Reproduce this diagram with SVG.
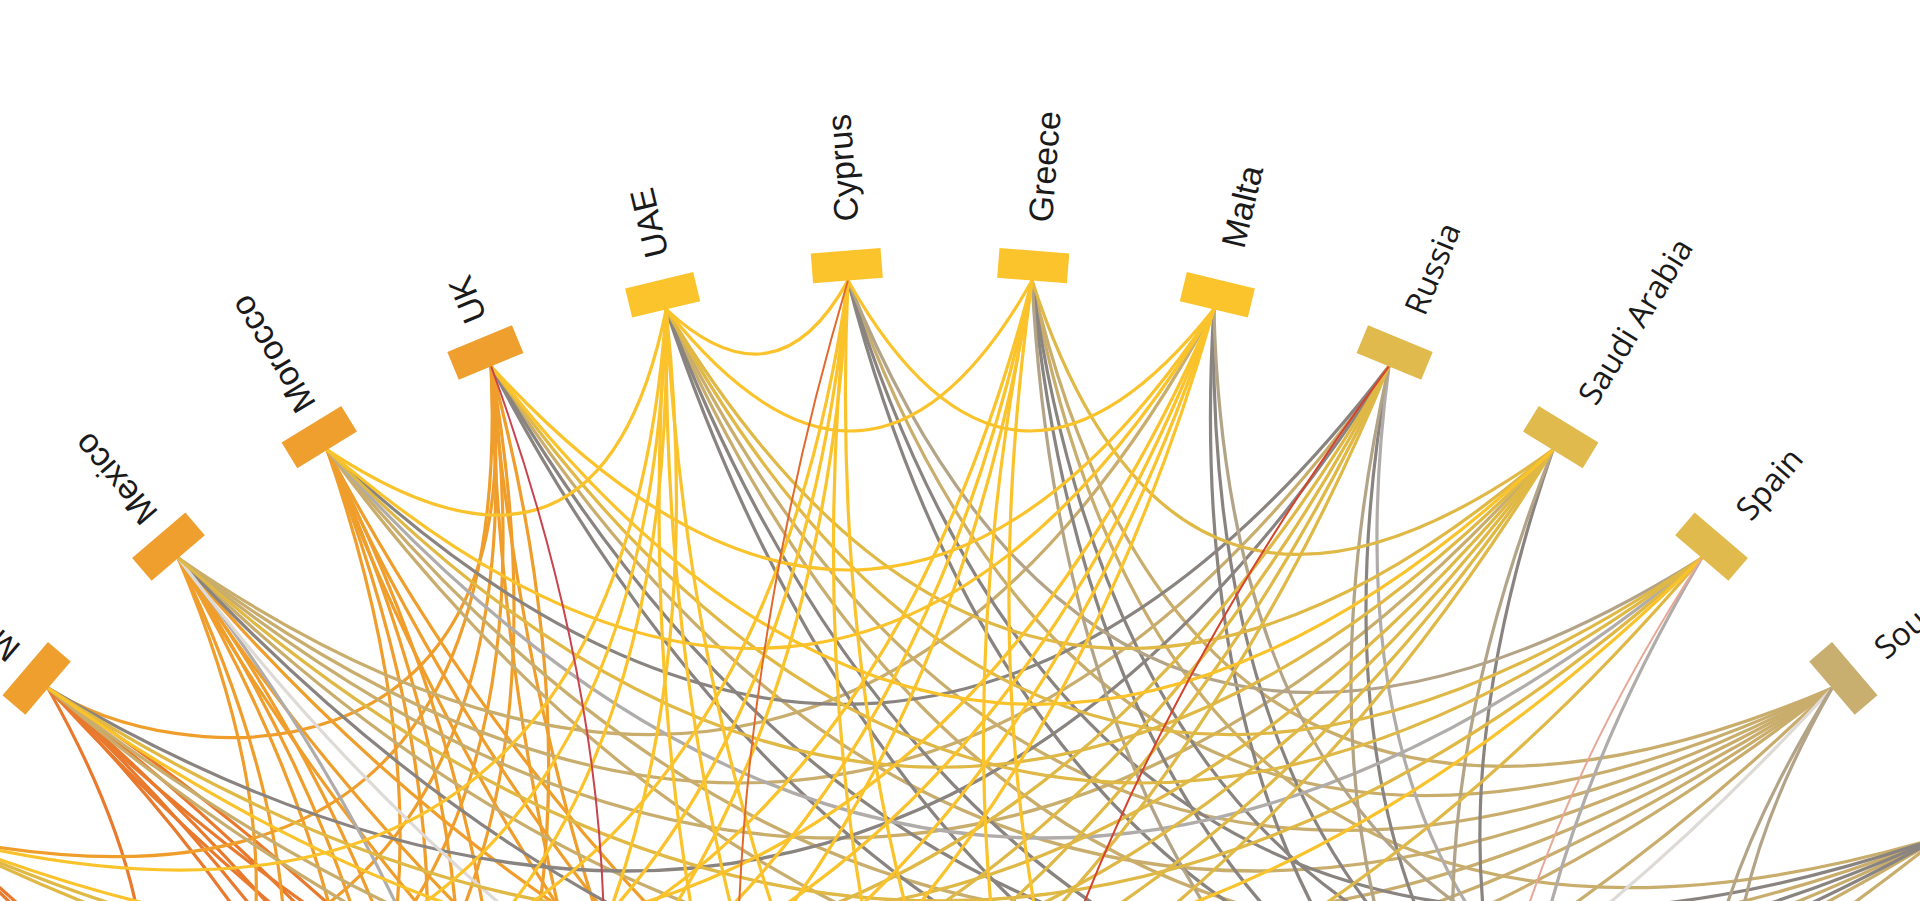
<svg xmlns="http://www.w3.org/2000/svg" width="1920" height="901" viewBox="0 0 1920 901">
<style>
.o1{stroke:#E8792D}.o2{stroke:#EF9E2C}.y{stroke:#FBC32B}.g{stroke:#DFB845}.kh{stroke:#C9AD6D}.tp{stroke:#B3A488}.gr{stroke:#8A8480}.lg{stroke:#B0ACAA}.vlg{stroke:#DEDAD6}
.rd{stroke:#D5432B;stroke-width:2}.ro{stroke:#E2692C;stroke-width:2}.pk{stroke:#E7A896;stroke-width:2}.cr{stroke:#C8454E;stroke-width:2}
.nO{fill:#EF9F2E}.nY{fill:#FCC42C}.nG{fill:#E1BA4E}.nK{fill:#C8AE6F}
.lh{font-family:"Liberation Sans",Arial,sans-serif;font-size:34px;fill:#1a1a1a}
.lm{font-family:"Open Sans","Liberation Sans",sans-serif;font-size:32px;fill:#1a1a1a}
</style>
<defs>
<path id="k1" d="M-92,-1169.4Q0,-1051.6 92,-1169.4"/>
<path id="k2" d="M-183.5,-1158.6Q0,-886.5 183.5,-1158.6"/>
<path id="k3" d="M-273.8,-1140.6Q0,-763.7 273.8,-1140.6"/>
<path id="k4" d="M-362.5,-1115.6Q0,-651.6 362.5,-1115.6"/>
<path id="k5" d="M-448.9,-1083.7Q0,-548.7 448.9,-1083.7"/>
<path id="k6" d="M-532.5,-1045.2Q0,-453.8 532.5,-1045.2"/>
<path id="k7" d="M-612.9,-1000.1Q0,-365.4 612.9,-1000.1"/>
<path id="k8" d="M-689.5,-949Q0,-283.1 689.5,-949"/>
<path id="k9" d="M-761.8,-892Q0,-206.1 761.8,-892"/>
<path id="k10" d="M-829.4,-829.4Q0,-133.4 829.4,-829.4"/>
<path id="k11" d="M-892,-761.8Q0,-64.9 892,-761.8"/>
<path id="k12" d="M-949,-689.5Q0,0 949,-689.5"/>
<path id="k13" d="M-1000.1,-612.9Q0,87.4 1000.1,-612.9"/>
<path id="k14" d="M-1045.2,-532.5Q0,172.5 1045.2,-532.5"/>
<path id="k15" d="M-1083.7,-448.9Q0,254.9 1083.7,-448.9"/>
<path id="k16" d="M-1115.6,-362.5Q0,334.6 1115.6,-362.5"/>
<path id="k17" d="M-1140.6,-273.8Q0,411.6 1140.6,-273.8"/>
<path id="k18" d="M-1158.6,-183.5Q0,485.5 1158.6,-183.5"/>
</defs>
<rect width="1920" height="901" fill="#ffffff"/>
<g id="connectors" transform="translate(940 1450)" fill="none" stroke-width="3.2">
<use href="#k14" transform="rotate(-112.5)" class="o1"/>
<use href="#k13" transform="rotate(-108)" class="o1"/>
<use href="#k12" transform="rotate(-103.5)" class="o1"/>
<use href="#k11" transform="rotate(-99)" class="o1"/>
<use href="#k10" transform="rotate(-94.5)" class="o1"/>
<use href="#k13" transform="rotate(9)" class="o1"/>
<use href="#k14" transform="rotate(13.5)" class="o1"/>
<use href="#k4" transform="rotate(-67.5)" class="o1"/>
<use href="#k8" transform="rotate(-94.5)" class="o1"/>
<use href="#k9" transform="rotate(-99)" class="o1"/>
<use href="#k12" transform="rotate(13.5)" class="o2"/>
<use href="#k14" transform="rotate(22.5)" class="o2"/>
<use href="#k15" transform="rotate(27)" class="o2"/>
<use href="#k8" transform="rotate(-76.5)" class="o2"/>
<use href="#k9" transform="rotate(-81)" class="o2"/>
<use href="#k10" transform="rotate(-85.5)" class="o2"/>
<use href="#k5" transform="rotate(-63)" class="o2"/>
<use href="#k6" transform="rotate(-67.5)" class="o2"/>
<use href="#k7" transform="rotate(-63)" class="o2"/>
<use href="#k8" transform="rotate(-67.5)" class="o2"/>
<use href="#k9" transform="rotate(-72)" class="o2"/>
<use href="#k10" transform="rotate(-76.5)" class="o2"/>
<use href="#k14" transform="rotate(31.5)" class="o2"/>
<use href="#k15" transform="rotate(36)" class="o2"/>
<use href="#k13" transform="rotate(27)" class="o2"/>
<use href="#k4" transform="rotate(-40.5)" class="o2"/>
<use href="#k5" transform="rotate(-45)" class="o2"/>
<use href="#k6" transform="rotate(-49.5)" class="o2"/>
<use href="#k7" transform="rotate(-54)" class="o2"/>
<use href="#k9" transform="rotate(-63)" class="o2"/>
<use href="#k17" transform="rotate(54)" class="o2"/>
<use href="#k18" transform="rotate(58.5)" class="o2"/>
<path class="o2" d="M-892,-761.8C-770,-680 -400,-650 -448.9,-1083.7"/>
<use href="#k11" transform="rotate(0)" class="kh"/>
<use href="#k12" transform="rotate(4.5)" class="kh"/>
<use href="#k7" transform="rotate(-9)" class="kh"/>
<use href="#k6" transform="rotate(-13.5)" class="kh"/>
<use href="#k8" transform="rotate(-4.5)" class="kh"/>
<use href="#k9" transform="rotate(9)" class="kh"/>
<use href="#k10" transform="rotate(13.5)" class="kh"/>
<use href="#k7" transform="rotate(18)" class="kh"/>
<use href="#k6" transform="rotate(22.5)" class="kh"/>
<use href="#k8" transform="rotate(13.5)" class="kh"/>
<use href="#k10" transform="rotate(4.5)" class="kh"/>
<use href="#k13" transform="rotate(-9)" class="kh"/>
<use href="#k5" transform="rotate(27)" class="kh"/>
<use href="#k14" transform="rotate(-4.5)" class="kh"/>
<use href="#k6" transform="rotate(31.5)" class="kh"/>
<use href="#k8" transform="rotate(22.5)" class="kh"/>
<use href="#k8" transform="rotate(-13.5)" class="gr"/>
<use href="#k11" transform="rotate(9)" class="gr"/>
<use href="#k6" transform="rotate(-4.5)" class="gr"/>
<use href="#k10" transform="rotate(22.5)" class="gr"/>
<use href="#k9" transform="rotate(18)" class="gr"/>
<use href="#k10" transform="rotate(31.5)" class="gr"/>
<use href="#k9" transform="rotate(27)" class="gr"/>
<use href="#k7" transform="rotate(27)" class="gr"/>
<use href="#k8" transform="rotate(31.5)" class="gr"/>
<use href="#k7" transform="rotate(36)" class="gr"/>
<use href="#k8" transform="rotate(40.5)" class="gr"/>
<use href="#k7" transform="rotate(45)" class="gr"/>
<use href="#k8" transform="rotate(49.5)" class="gr"/>
<use href="#k7" transform="rotate(54)" class="gr"/>
<use href="#k7" transform="rotate(63)" class="gr"/>
<use href="#k11" transform="rotate(-90)" class="lg"/>
<use href="#k8" transform="rotate(4.5)" class="lg"/>
<use href="#k6" transform="rotate(49.5)" class="lg"/>
<use href="#k8" transform="rotate(76.5)" class="lg"/>
<use href="#k13" transform="rotate(18)" class="vlg"/>
<use href="#k14" transform="rotate(-13.5)" class="vlg"/>
<use href="#k5" transform="rotate(18)" class="tp"/>
<use href="#k9" transform="rotate(45)" class="tp"/>
<use href="#k6" transform="rotate(40.5)" class="tp"/>
<use href="#k8" transform="rotate(58.5)" class="tp"/>
<use href="#k8" transform="rotate(67.5)" class="tp"/>
<use href="#k4" transform="rotate(67.5)" class="tp"/>
<use href="#k5" transform="rotate(72)" class="tp"/>
<use href="#k3" transform="rotate(18)" class="g"/>
<use href="#k9" transform="rotate(-9)" class="g"/>
<use href="#k9" transform="rotate(-18)" class="g"/>
<use href="#k10" transform="rotate(-22.5)" class="g"/>
<use href="#k11" transform="rotate(-27)" class="g"/>
<use href="#k12" transform="rotate(-31.5)" class="g"/>
<use href="#k5" transform="rotate(9)" class="g"/>
<use href="#k7" transform="rotate(0)" class="g"/>
<use href="#k10" transform="rotate(-13.5)" class="g"/>
<use href="#k11" transform="rotate(-18)" class="g"/>
<use href="#k12" transform="rotate(-22.5)" class="g"/>
<use href="#k6" transform="rotate(13.5)" class="g"/>
<use href="#k7" transform="rotate(9)" class="g"/>
<use href="#k9" transform="rotate(0)" class="g"/>
<use href="#k12" transform="rotate(-13.5)" class="g"/>
<use href="#k1" transform="rotate(-9)" class="y"/>
<use href="#k2" transform="rotate(-4.5)" class="y"/>
<use href="#k2" transform="rotate(4.5)" class="y"/>
<use href="#k2" transform="rotate(-22.5)" class="y"/>
<use href="#k10" transform="rotate(-4.5)" class="y"/>
<use href="#k4" transform="rotate(-4.5)" class="y"/>
<use href="#k6" transform="rotate(4.5)" class="y"/>
<use href="#k5" transform="rotate(-36)" class="y"/>
<use href="#k6" transform="rotate(-40.5)" class="y"/>
<use href="#k7" transform="rotate(-45)" class="y"/>
<use href="#k9" transform="rotate(-54)" class="y"/>
<use href="#k15" transform="rotate(54)" class="y"/>
<use href="#k16" transform="rotate(58.5)" class="y"/>
<use href="#k17" transform="rotate(63)" class="y"/>
<use href="#k7" transform="rotate(-36)" class="y"/>
<use href="#k8" transform="rotate(-40.5)" class="y"/>
<use href="#k9" transform="rotate(-45)" class="y"/>
<use href="#k14" transform="rotate(58.5)" class="y"/>
<use href="#k15" transform="rotate(63)" class="y"/>
<use href="#k8" transform="rotate(-31.5)" class="y"/>
<use href="#k9" transform="rotate(-36)" class="y"/>
<use href="#k10" transform="rotate(-40.5)" class="y"/>
<use href="#k13" transform="rotate(63)" class="y"/>
<use href="#k14" transform="rotate(67.5)" class="y"/>
<use href="#k8" transform="rotate(-22.5)" class="y"/>
<use href="#k9" transform="rotate(-27)" class="y"/>
<use href="#k10" transform="rotate(-31.5)" class="y"/>
<use href="#k11" transform="rotate(-36)" class="y"/>
<use href="#k5" transform="rotate(-9)" class="y"/>
<use href="#k16" transform="rotate(94.5)" class="rd"/>
<use href="#k18" transform="rotate(76.5)" class="ro"/>
<use href="#k9" transform="rotate(81)" class="pk"/>
<use href="#k11" transform="rotate(-72)" class="cr"/>
</g>
<g id="n-m" transform="translate(940 1450) rotate(-49.5)"><rect class="nO" x="-35" y="-1203" width="70" height="30"/><text class="lh" transform="translate(0 -1220) rotate(-90)" dy="0.45em">M</text></g>
<g id="n-mexico" transform="translate(940 1450) rotate(-40.5)"><rect class="nO" x="-35" y="-1203" width="70" height="30"/><text class="lh" transform="translate(0 -1220) rotate(-90)" dy="0.45em">Mexico</text></g>
<g id="n-morocco" transform="translate(940 1450) rotate(-31.5)"><rect class="nO" x="-35" y="-1203" width="70" height="30"/><text class="lh" transform="translate(0 -1218) rotate(-90)" dy="0.45em">Morocco</text></g>
<g id="n-uk" transform="translate(940 1450) rotate(-22.5)"><rect class="nO" x="-35" y="-1203" width="70" height="30"/><text class="lh" transform="translate(0 -1220) rotate(-90)" dy="0.45em">UK</text></g>
<g id="n-uae" transform="translate(940 1450) rotate(-13.5)"><rect class="nY" x="-35" y="-1203" width="70" height="30"/><text class="lh" transform="translate(0 -1226) rotate(-90)" dy="0.45em">UAE</text></g>
<g id="n-cyprus" transform="translate(940 1450) rotate(-4.5)"><rect class="nY" x="-35" y="-1203" width="70" height="30"/><text class="lh" transform="translate(0 -1232) rotate(-90)" dy="0.45em">Cyprus</text></g>
<g id="n-greece" transform="translate(940 1450) rotate(4.5)"><rect class="nY" x="-35" y="-1203" width="70" height="30"/><text class="lh" transform="translate(0 -1232) rotate(-90)" dy="0.45em">Greece</text></g>
<g id="n-malta" transform="translate(940 1450) rotate(13.5)"><rect class="nY" x="-35" y="-1203" width="70" height="30"/><text class="lh" transform="translate(0 -1238) rotate(-90)" dy="0.45em">Malta</text></g>
<g id="n-russia" transform="translate(940 1450) rotate(22.5)"><rect class="nG" x="-35" y="-1203" width="70" height="30"/><text class="lm" transform="translate(0 -1232) rotate(-90)" dy="0.45em">Russia</text></g>
<g id="n-saudi" transform="translate(940 1450) rotate(31.5)"><rect class="nG" x="-35" y="-1203" width="70" height="30"/><text class="lm" transform="translate(0 -1232) rotate(-90)" dy="0.45em">Saudi Arabia</text></g>
<g id="n-spain" transform="translate(940 1450) rotate(40.5)"><rect class="nG" x="-35" y="-1203" width="70" height="30"/><text class="lm" transform="translate(0 -1232) rotate(-90)" dy="0.45em">Spain</text></g>
<g id="n-sou" transform="translate(940 1450) rotate(49.5)"><rect class="nK" x="-35" y="-1203" width="70" height="30"/><text class="lm" transform="translate(0 -1232) rotate(-90)" dy="0.45em">Sou</text></g>
</svg>
